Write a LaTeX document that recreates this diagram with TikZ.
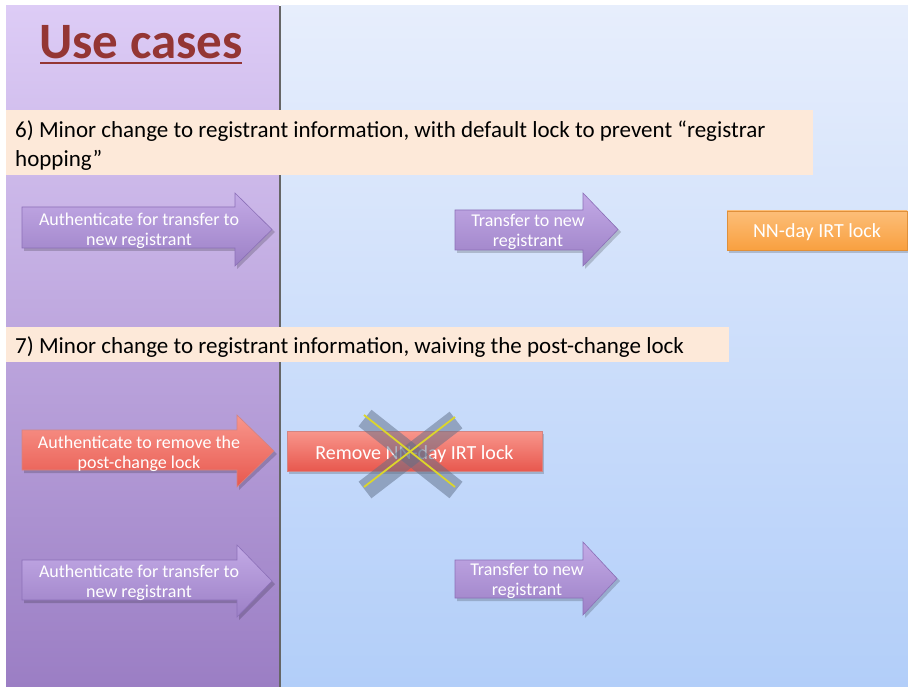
\documentclass[tikz,border=0pt]{standalone}
\usepackage{fontspec}
\setmainfont{Carlito}
\usetikzlibrary{calc}
\definecolor{titlered}{HTML}{943634}
\definecolor{peach}{HTML}{FDE9D9}
\definecolor{purpleA}{HTML}{C3AAE6}
\definecolor{purpleB}{HTML}{9C80C6}
\definecolor{purpleEdge}{HTML}{8C70B8}
\definecolor{redA}{HTML}{F8968C}
\definecolor{redB}{HTML}{E8584E}
\definecolor{redEdge}{HTML}{C0504D}
\definecolor{orangeA}{HTML}{FCBE78}
\definecolor{orangeB}{HTML}{F9A040}
\definecolor{panelTop}{HTML}{DDCCF6}
\definecolor{panelBot}{HTML}{9B7EC4}
\definecolor{blueTop}{HTML}{E7EEFC}
\definecolor{blueBot}{HTML}{B2CEF9}
\definecolor{crossgrey}{HTML}{5E6E88}
\definecolor{crossyellow}{HTML}{DCD62A}
\tikzset{
  parrow/.style={top color=purpleA, bottom color=purpleB, draw=purpleEdge, line width=0.6pt, line join=miter},
  rarrow/.style={top color=redA, bottom color=redB, draw=redEdge!70, line width=0.6pt},
  dshadow/.style={fill=black, opacity=0.18},
  atext/.style={text=white, font=\fontsize{18}{20}\selectfont, align=center, inner sep=0pt},
  boxtext/.style={text=white, font=\fontsize{20}{22}\selectfont, inner sep=0pt},
  banner/.style={fill=peach, draw=none},
  btext/.style={font=\fontsize{23}{29}\selectfont, align=left, anchor=west, inner sep=0pt, text=black},
}
\begin{document}
\begin{tikzpicture}[x=1pt,y=-1pt]
\useasboundingbox (0,0) rectangle (908,687);
\fill[white] (0,0) rectangle (908,687);
% panels
\shade[top color=blueTop, bottom color=blueBot] (281,6) rectangle (908,687);
\shade[top color=panelTop, bottom color=panelBot] (6,6) rectangle (279,687);
\draw[line width=1.6pt, color=black!60] (280,6) -- (280,687);
% title
\node[text=titlered, font=\bfseries\fontsize{51}{54}\selectfont, inner sep=0pt] (title) at (141,42) {Use cases};
\draw[titlered, line width=2.5pt] (40,63) -- (242,63);
% banner 6
\fill[banner] (6,110) rectangle (813,175);
\node[btext] (b6) at (15,146) {6) Minor change to registrant information, with default lock to prevent “registrar\\hopping”};
% banner 7
\fill[banner] (6,327) rectangle (729,362);
\node[btext] (b7) at (15,347) {7) Minor change to registrant information, waiving the post-change lock};
% arrow 1
\fill[dshadow] (24,210)--(237,210)--(237,196)--(275,232)--(237,269)--(237,251)--(24,251)--cycle;
\path[parrow] (22,207)--(235,207)--(235,193)--(272,229.5)--(235,266)--(235,248)--(22,248)--cycle;
\node[atext] (a1) at (139,231) {Authenticate for transfer to\\new registrant};
% arrow 2
\fill[dshadow] (457,213)--(585,213)--(585,196)--(621,232)--(585,269)--(585,253)--(457,253)--cycle;
\path[parrow] (455,210)--(583,210)--(583,193)--(618,229.5)--(583,266)--(583,250)--(455,250)--cycle;
\node[atext] (a2) at (528,232) {Transfer to new\\registrant};
% orange box
\fill[black, opacity=0.18] (729,213) rectangle (909,253);
\node[top color=orangeA, bottom color=orangeB, draw=orangeB!90!black, line width=0.5pt, minimum width=180pt, minimum height=39pt, inner sep=0pt] (lock) at (817,230.5) {};
\node[boxtext] (locktext) at (817,232.5) {NN-day IRT lock};
% arrow 3 red
\fill[dshadow] (24,433)--(239,433)--(239,418)--(277,454)--(239,490)--(239,473)--(24,473)--cycle;
\path[rarrow] (22,430)--(237,430)--(237,415)--(274,451)--(237,487)--(237,470)--(22,470)--cycle;
\node[atext] (a3) at (139,454) {Authenticate to remove the\\post-change lock};
% red box
\fill[black, opacity=0.18] (289,434) rectangle (544,474);
\node[top color=redA, bottom color=redB, draw=redEdge!70, line width=0.5pt, minimum width=255pt, minimum height=40pt, inner sep=0pt] (rm) at (414.5,451) {};
\node[boxtext] (rmtext) at (414.5,454) {Remove NN-day IRT lock};
% cross
\coordinate (c1) at (364,415);
\coordinate (c2) at (455,487);
\coordinate (c3) at (455,417);
\coordinate (c4) at (364,487);
\draw[color=crossgrey, opacity=0.5, line width=21pt] ($(c1)+(1,3)$) -- ($(c2)+(1,3)$);
\draw[color=crossgrey, opacity=0.5, line width=21pt] ($(c3)+(1,3)$) -- ($(c4)+(1,3)$);
\draw[color=crossyellow, line width=1.8pt] (c1) -- (c2);
\draw[color=crossyellow, line width=1.8pt] (c3) -- (c4);
% arrow 4
\fill[dshadow] (24,563)--(239,563)--(239,548)--(275,584)--(239,620)--(239,603)--(24,603)--cycle;
\path[parrow] (22,560)--(237,560)--(237,545)--(272,581)--(237,617)--(237,600)--(22,600)--cycle;
\node[atext] (a4) at (139,583) {Authenticate for transfer to\\new registrant};
% arrow 5
\fill[dshadow] (457,563)--(585,563)--(585,545)--(620,581)--(585,618)--(585,601)--(457,601)--cycle;
\path[parrow] (455,560)--(583,560)--(583,542)--(617,578.5)--(583,615)--(583,598)--(455,598)--cycle;
\node[atext] (a5) at (527,581) {Transfer to new\\registrant};
\end{tikzpicture}
\end{document}
